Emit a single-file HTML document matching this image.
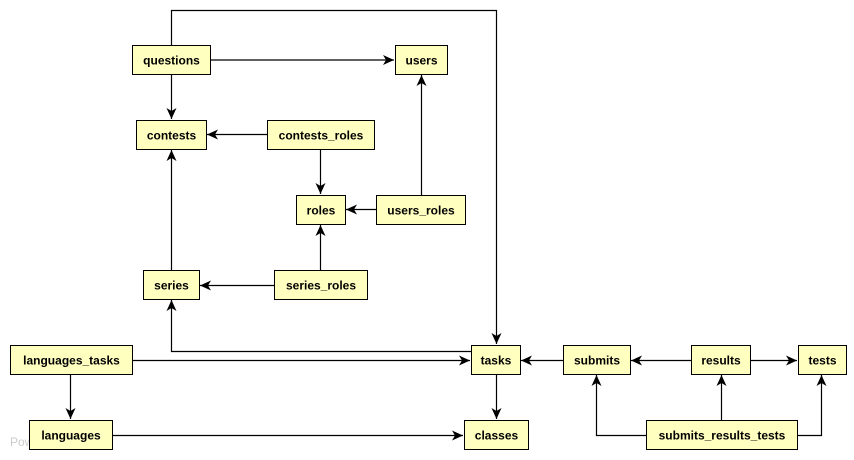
<!DOCTYPE html>
<html><head><meta charset="utf-8"><style>
html,body{margin:0;padding:0;background:#fff;}
svg{display:block;}
text{font-family:"Liberation Sans",Arial,sans-serif;font-weight:bold;font-size:12px;fill:#000;}
</style></head><body>
<svg width="854" height="460" viewBox="0 0 854 460" xmlns="http://www.w3.org/2000/svg">
<defs>
<marker id="a" markerWidth="12" markerHeight="10" refX="11" refY="5" orient="auto" markerUnits="userSpaceOnUse">
<path d="M0,0 L11,5 L0,10 L3,5 Z" fill="#000"/>
</marker>
</defs>
<text x="10" y="446" style="font-weight:normal;fill:#ccc;font-size:12px">Pow</text>
<g stroke="#000" stroke-width="1.2" fill="none">
<polyline points="171.5,45 171.5,10.5 496.5,10.5 496.5,344" marker-end="url(#a)"/>
<line x1="210" y1="60" x2="394" y2="60" marker-end="url(#a)"/>
<line x1="171.5" y1="74" x2="171.5" y2="119" marker-end="url(#a)"/>
<line x1="267" y1="134.5" x2="207" y2="134.5" marker-end="url(#a)"/>
<line x1="320.5" y1="149" x2="320.5" y2="194" marker-end="url(#a)"/>
<line x1="421.5" y1="195" x2="421.5" y2="75" marker-end="url(#a)"/>
<line x1="376" y1="209.5" x2="346" y2="209.5" marker-end="url(#a)"/>
<line x1="320.5" y1="270" x2="320.5" y2="225" marker-end="url(#a)"/>
<line x1="274" y1="285.5" x2="200" y2="285.5" marker-end="url(#a)"/>
<line x1="171.5" y1="270" x2="171.5" y2="150" marker-end="url(#a)"/>
<polyline points="471,351.5 171.5,351.5 171.5,300" marker-end="url(#a)"/>
<line x1="132" y1="360.5" x2="470" y2="360.5" marker-end="url(#a)"/>
<line x1="70.5" y1="374" x2="70.5" y2="419" marker-end="url(#a)"/>
<line x1="112" y1="435.5" x2="463" y2="435.5" marker-end="url(#a)"/>
<line x1="496.5" y1="374" x2="496.5" y2="419" marker-end="url(#a)"/>
<line x1="563" y1="360.5" x2="521" y2="360.5" marker-end="url(#a)"/>
<line x1="691" y1="360.5" x2="631" y2="360.5" marker-end="url(#a)"/>
<line x1="750" y1="360.5" x2="797" y2="360.5" marker-end="url(#a)"/>
<line x1="721.5" y1="420" x2="721.5" y2="375" marker-end="url(#a)"/>
<polyline points="646,435.5 596.5,435.5 596.5,375" marker-end="url(#a)"/>
<polyline points="797,435.5 821.5,435.5 821.5,375" marker-end="url(#a)"/>
</g>
<g fill="#ffffc0" stroke="#000" stroke-width="1">
<rect x="132.5" y="45.5" width="78" height="29"/>
<rect x="395.5" y="45.5" width="52" height="29"/>
<rect x="136.5" y="120.5" width="70" height="29"/>
<rect x="267.5" y="120.5" width="107" height="29"/>
<rect x="296.5" y="195.5" width="49" height="29"/>
<rect x="376.5" y="195.5" width="89" height="29"/>
<rect x="143.5" y="270.5" width="56" height="29"/>
<rect x="274.5" y="270.5" width="93" height="29"/>
<rect x="10.5" y="345.5" width="122" height="29"/>
<rect x="471.5" y="345.5" width="49" height="29"/>
<rect x="563.5" y="345.5" width="67" height="29"/>
<rect x="691.5" y="345.5" width="59" height="29"/>
<rect x="798.5" y="345.5" width="48" height="29"/>
<rect x="29.5" y="420.5" width="83" height="29"/>
<rect x="464.5" y="420.5" width="64" height="29"/>
<rect x="646.5" y="420.5" width="151" height="29"/>
</g>
<g text-anchor="middle">
<text x="171.5" y="64.5">questions</text>
<text x="421.5" y="64.5">users</text>
<text x="171.5" y="139.5">contests</text>
<text x="321" y="139.5">contests_roles</text>
<text x="321" y="214.5">roles</text>
<text x="421" y="214.5">users_roles</text>
<text x="171.5" y="289.5">series</text>
<text x="321" y="289.5">series_roles</text>
<text x="71.5" y="364.5">languages_tasks</text>
<text x="496" y="364.5">tasks</text>
<text x="597" y="364.5">submits</text>
<text x="721" y="364.5">results</text>
<text x="822.5" y="364.5">tests</text>
<text x="71" y="439.5">languages</text>
<text x="496.5" y="439.5">classes</text>
<text x="722" y="439.5">submits_results_tests</text>
</g>
</svg>
</body></html>
